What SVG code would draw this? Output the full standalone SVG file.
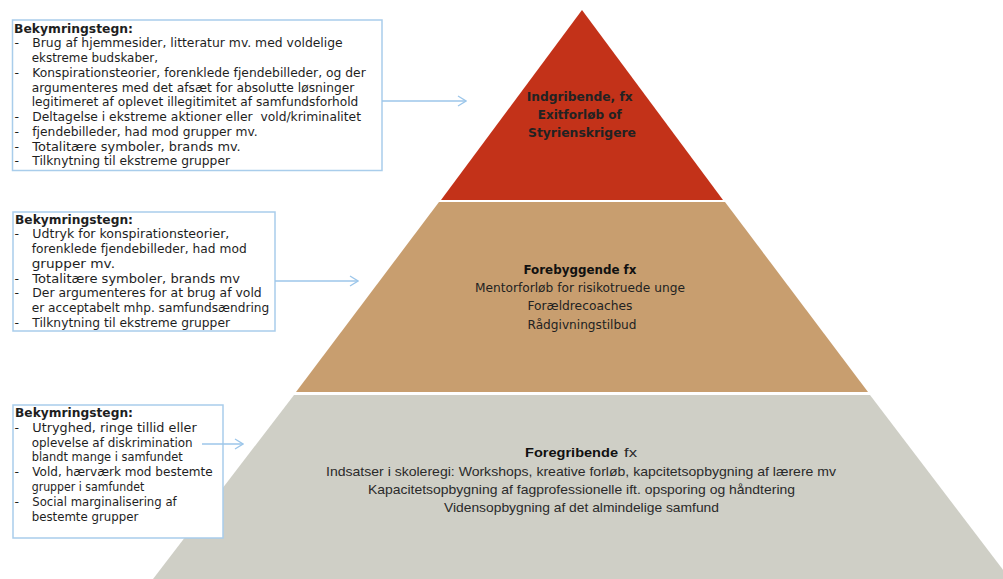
<svg xmlns="http://www.w3.org/2000/svg" width="1003" height="579" viewBox="0 0 1003 579">
<defs>
<style>
.box{fill:#fff;stroke:#a9cdeb;stroke-width:1.5}
.bt{font-family:"DejaVu Sans","Liberation Sans",sans-serif;font-size:12.5px;fill:#1e1e1e}
.bh{font-weight:bold}
.lvl{font-family:"DejaVu Sans","Liberation Sans",sans-serif;font-size:13px;fill:#222;text-anchor:middle}
.low{font-family:"Liberation Sans","DejaVu Sans",sans-serif;font-size:13.5px;fill:#2a2a2a}
.con{stroke:#9cc6ea;stroke-width:1.3;fill:none}
</style>
<marker id="ah" markerWidth="10" markerHeight="12" refX="9" refY="6" orient="auto" markerUnits="userSpaceOnUse">
<path d="M1,1 L9,6 L1,11" fill="none" stroke="#9cc6ea" stroke-width="1.3"/>
</marker>
</defs>
<rect width="1003" height="579" fill="#fff"/>

<g id="level-top">
<polygon points="582,10 723,200 441,200" fill="#c33219"/>
<text class="lvl" font-weight="bold" fill="#1a1a1a" font-size="13.5">
<tspan x="582" y="101" textLength="106" lengthAdjust="spacingAndGlyphs">Indgribende, fx</tspan>
<tspan x="582" y="119" textLength="84" lengthAdjust="spacingAndGlyphs">Exitforløb of</tspan>
<tspan x="582" y="137" textLength="108" lengthAdjust="spacingAndGlyphs">Styrienskrigere</tspan>
</text>
</g>

<g id="level-middle">
<polygon points="439,202 725,202 868,392 296,392" fill="#c89e6f"/>
<text class="lvl">
<tspan x="582" y="274" font-weight="bold" fill="#111" textLength="113" lengthAdjust="spacingAndGlyphs">Forebyggende fx</tspan>
<tspan x="582" y="292" textLength="210" lengthAdjust="spacingAndGlyphs">Mentorforløb for risikotruede unge</tspan>
<tspan x="582" y="310" textLength="105" lengthAdjust="spacingAndGlyphs">Forældrecoaches</tspan>
<tspan x="582" y="328.5" textLength="109" lengthAdjust="spacingAndGlyphs">Rådgivningstilbud</tspan>
</text>
</g>

<g id="level-bottom">
<polygon points="294,395 870,395 1010,579 153,579" fill="#cfcfc6"/>
<text class="low">
<tspan x="525" y="457" font-weight="bold" fill="#111" textLength="93" lengthAdjust="spacingAndGlyphs">Foregribende</tspan>
<tspan x="624" y="457" textLength="13" lengthAdjust="spacingAndGlyphs">fx</tspan>
<tspan x="326" y="475.5" textLength="510" lengthAdjust="spacingAndGlyphs">Indsatser i skoleregi: Workshops, kreative forløb, kapcitetsopbygning af lærere mv</tspan>
<tspan x="368" y="494" textLength="427" lengthAdjust="spacingAndGlyphs">Kapacitetsopbygning af fagprofessionelle ift. opsporing og håndtering</tspan>
<tspan x="444" y="512" textLength="275" lengthAdjust="spacingAndGlyphs">Vidensopbygning af det almindelige samfund</tspan>
</text>
</g>

<g id="box-top">
<rect class="box" x="12.5" y="20" width="369.5" height="150.5"/>
<text class="bt">
<tspan class="bh" x="14" y="32.5" textLength="119" lengthAdjust="spacingAndGlyphs">Bekymringstegn:</tspan>
<tspan x="14.5" y="47.3">-</tspan><tspan x="32.3" y="47.3" textLength="310.4" lengthAdjust="spacingAndGlyphs">Brug af hjemmesider, litteratur mv. med voldelige</tspan>
<tspan x="31.7" y="62" textLength="126.3" lengthAdjust="spacingAndGlyphs">ekstreme budskaber,</tspan>
<tspan x="14.5" y="76.8">-</tspan><tspan x="32.3" y="76.8" textLength="333.4" lengthAdjust="spacingAndGlyphs">Konspirationsteorier, forenklede fjendebilleder, og der</tspan>
<tspan x="31.7" y="91.5" textLength="322.6" lengthAdjust="spacingAndGlyphs">argumenteres med det afsæt for absolutte løsninger</tspan>
<tspan x="31.7" y="106.3" textLength="326.6" lengthAdjust="spacingAndGlyphs">legitimeret af oplevet illegitimitet af samfundsforhold</tspan>
<tspan x="14.5" y="121">-</tspan><tspan x="32.3" y="121" textLength="328.7" lengthAdjust="spacingAndGlyphs">Deltagelse i ekstreme aktioner eller &#160;vold/kriminalitet</tspan>
<tspan x="14.5" y="135.8">-</tspan><tspan x="32.3" y="135.8" textLength="225.4" lengthAdjust="spacingAndGlyphs">fjendebilleder, had mod grupper mv.</tspan>
<tspan x="14.5" y="150.5">-</tspan><tspan x="32.3" y="150.5" textLength="208.4" lengthAdjust="spacingAndGlyphs">Totalitære symboler, brands mv.</tspan>
<tspan x="14.5" y="165.3">-</tspan><tspan x="32.3" y="165.3" textLength="197.7" lengthAdjust="spacingAndGlyphs">Tilknytning til ekstreme grupper</tspan>
</text>
</g>

<g id="box-middle">
<rect class="box" x="13" y="212" width="262" height="119"/>
<text class="bt">
<tspan class="bh" x="15" y="223.5" textLength="118" lengthAdjust="spacingAndGlyphs">Bekymringstegn:</tspan>
<tspan x="14.5" y="238.3">-</tspan><tspan x="32.3" y="238.3" textLength="197" lengthAdjust="spacingAndGlyphs">Udtryk for konspirationsteorier,</tspan>
<tspan x="31.7" y="253.1" textLength="215" lengthAdjust="spacingAndGlyphs">forenklede fjendebilleder, had mod</tspan>
<tspan x="31.7" y="267.9" textLength="83.3" lengthAdjust="spacingAndGlyphs">grupper mv.</tspan>
<tspan x="14.5" y="282.5">-</tspan><tspan x="32.3" y="282.5" textLength="207.7" lengthAdjust="spacingAndGlyphs">Totalitære symboler, brands mv</tspan>
<tspan x="14.5" y="297.3">-</tspan><tspan x="32.3" y="297.3" textLength="229.4" lengthAdjust="spacingAndGlyphs">Der argumenteres for at brug af vold</tspan>
<tspan x="31.7" y="312.1" textLength="237.6" lengthAdjust="spacingAndGlyphs">er acceptabelt mhp. samfundsændring</tspan>
<tspan x="14.5" y="326.9">-</tspan><tspan x="32.3" y="326.9" textLength="197.7" lengthAdjust="spacingAndGlyphs">Tilknytning til ekstreme grupper</tspan>
</text>
</g>

<g id="box-bottom">
<rect class="box" x="13" y="405" width="210" height="133"/>
<text class="bt">
<tspan class="bh" x="15" y="417" textLength="118" lengthAdjust="spacingAndGlyphs">Bekymringstegn:</tspan>
<tspan x="14.5" y="431.8">-</tspan><tspan x="32.3" y="431.8" textLength="164.4" lengthAdjust="spacingAndGlyphs">Utryghed, ringe tillid eller</tspan>
<tspan x="31.7" y="446.6" textLength="161" lengthAdjust="spacingAndGlyphs">oplevelse af diskrimination</tspan>
<tspan x="31.7" y="461.4" textLength="151" lengthAdjust="spacingAndGlyphs">blandt mange i samfundet</tspan>
<tspan x="14.5" y="476.2">-</tspan><tspan x="32.3" y="476.2" textLength="180.4" lengthAdjust="spacingAndGlyphs">Vold, hærværk mod bestemte</tspan>
<tspan x="31.7" y="491" textLength="112.6" lengthAdjust="spacingAndGlyphs">grupper i samfundet</tspan>
<tspan x="14.5" y="505.8">-</tspan><tspan x="32.3" y="505.8" textLength="144.4" lengthAdjust="spacingAndGlyphs">Social marginalisering af</tspan>
<tspan x="31.7" y="520.6" textLength="106.6" lengthAdjust="spacingAndGlyphs">bestemte grupper</tspan>
</text>
</g>

<g id="connectors">
<line class="con" x1="382" y1="101" x2="466" y2="101" marker-end="url(#ah)"/>
<line class="con" x1="275" y1="281" x2="358" y2="281" marker-end="url(#ah)"/>
<line class="con" x1="202" y1="444" x2="243" y2="444" marker-end="url(#ah)"/>
</g>
</svg>
